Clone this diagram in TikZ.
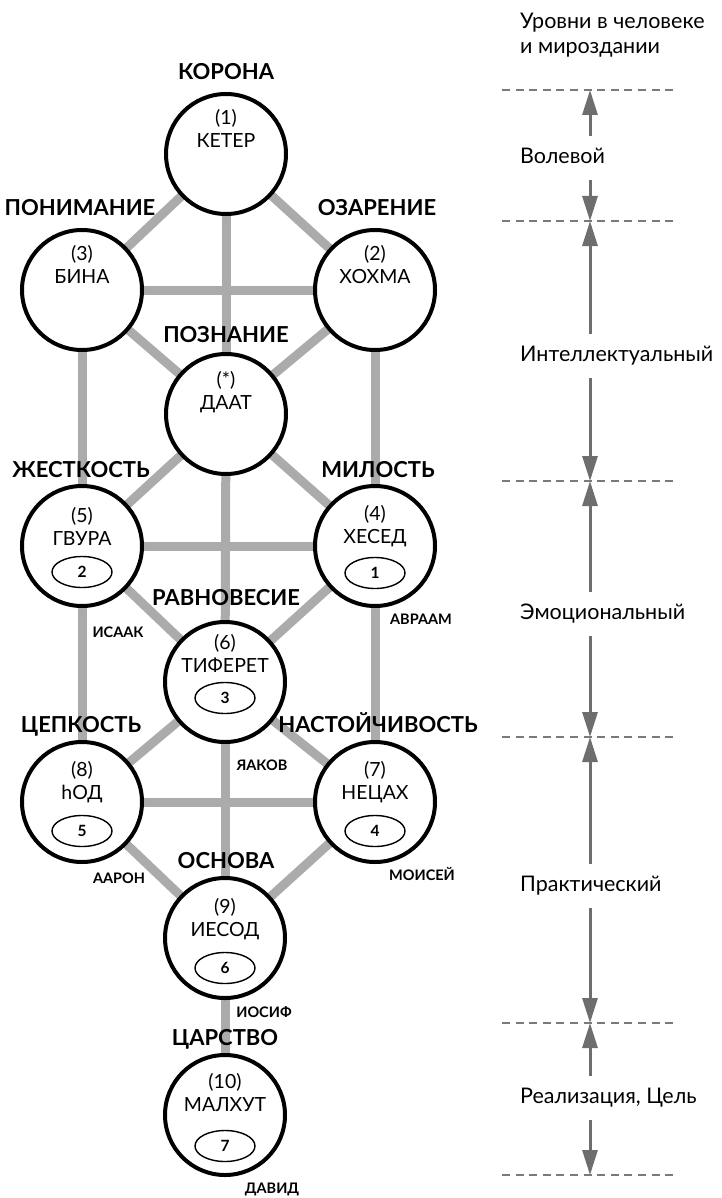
\documentclass[tikz,border=0pt]{standalone}
\usepackage{fontspec}
\setmainfont{Lato}
\usepackage{tikz}
\usetikzlibrary{shapes.geometric, arrows.meta, positioning, backgrounds}

\definecolor{pathgray}{HTML}{ABABAB}
\definecolor{arrowgray}{HTML}{6E6E6E}
\definecolor{dashgray}{HTML}{7A7A7A}

\begin{document}
\begin{tikzpicture}[
    x=1pt, y=-1pt,
    sefira/.style={circle, draw, line width=4pt, fill=white, minimum size=120pt, inner sep=0pt},
    sname/.style={align=center, inner sep=0pt, font=\fontsize{19.5}{23}\selectfont,
        execute at begin node=\strut, execute at end node=\strut},
    badge/.style={ellipse, draw, line width=1.4pt, minimum width=60pt, minimum height=31pt,
        inner sep=0pt, font=\bfseries\fontsize{15.5}{17}\selectfont},
    attrib/.style={anchor=base, inner sep=0pt, font=\bfseries\fontsize{22}{26}\selectfont},
    person/.style={anchor=base, inner sep=0pt, font=\bfseries\fontsize{14.5}{16}\selectfont},
    channel/.style={draw=pathgray, line width=9pt},
    tier/.style={anchor=west, inner xsep=0pt, inner ysep=12pt, text height=15pt, text depth=4pt,
        font=\fontsize{21.5}{25}\selectfont},
    divider/.style={draw=dashgray, line width=2pt, dash pattern=on 8pt off 5.6pt},
    levelarrow/.style={draw=arrowgray, line width=3pt, -{Triangle[length=25pt, width=15pt]}}
]
\useasboundingbox (0,0) rectangle (722,1198);

% Sefirot
\node[sefira] (keter)   at (226,154)  {};
\node[sefira] (bina)    at (82,290)   {};
\node[sefira] (chokhma) at (375,290)  {};
\node[sefira] (daat)    at (226,414)  {};
\node[sefira] (gevura)  at (82,546)   {};
\node[sefira] (chesed)  at (375,546)  {};
\node[sefira] (tiferet) at (225,682)  {};
\node[sefira] (hod)     at (82,802)   {};
\node[sefira] (netzach) at (375,802)  {};
\node[sefira] (yesod)   at (225,938)  {};
\node[sefira] (malkhut) at (225,1115) {};

% Channels
\begin{scope}[on background layer]
\foreach \a/\b in {keter/bina, keter/chokhma, keter/daat, bina/chokhma, bina/daat, chokhma/daat,
    bina/gevura, chokhma/chesed, daat/gevura, daat/chesed, daat/tiferet, gevura/chesed,
    gevura/tiferet, chesed/tiferet, gevura/hod, chesed/netzach, tiferet/hod, tiferet/netzach,
    tiferet/yesod, hod/netzach, hod/yesod, netzach/yesod, yesod/malkhut}
    \draw[channel] (\a.center) -- (\b.center);
\end{scope}

% Names inside the circles
\node[sname] (keter-t)   at ([yshift=22.5pt]keter.center)   {(1)\\КЕТЕР};
\node[sname] (bina-t)    at ([yshift=22.5pt]bina.center)    {(3)\\БИНА};
\node[sname] (chokhma-t) at ([yshift=22.5pt]chokhma.center) {(2)\\ХОХМА};
\node[sname] (daat-t)    at ([yshift=20.5pt]daat.center)    {(*)\\ДААТ};
\node[sname] (gevura-t)  at ([yshift=16.5pt]gevura.center)  {(5)\\ГВУРА};
\node[sname] (chesed-t)  at ([yshift=18.5pt]chesed.center)  {(4)\\ХЕСЕД};
\node[sname] (tiferet-t) at ([yshift=25.5pt]tiferet.center) {(6)\\ТИФЕРЕТ};
\node[sname] (hod-t)     at ([yshift=18.5pt]hod.center)     {(8)\\hОД};
\node[sname] (netzach-t) at ([yshift=18.5pt]netzach.center) {(7)\\НЕЦАХ};
\node[sname] (yesod-t)   at ([yshift=17.5pt]yesod.center)   {(9)\\ИЕСОД};
\node[sname] (malkhut-t) at ([yshift=19pt]malkhut.center)   {(10)\\МАЛХУТ};

% Numbered ovals
\node[badge] (chesed-b)  at ([yshift=-27pt]chesed.center)  {1};
\node[badge] (gevura-b)  at ([yshift=-26pt]gevura.center)  {2};
\node[badge] (tiferet-b) at ([yshift=-16pt]tiferet.center) {3};
\node[badge] (netzach-b) at ([yshift=-29pt]netzach.center) {4};
\node[badge] (hod-b)     at ([yshift=-29pt]hod.center)     {5};
\node[badge] (yesod-b)   at ([yshift=-30pt]yesod.center)   {6};
\node[badge] (malkhut-b) at ([yshift=-31pt]malkhut.center) {7};

% Qualities
\node[attrib] (crown)       at (226,80)   {КОРОНА};
\node[attrib] (understand)  at (80,215)   {ПОНИМАНИЕ};
\node[attrib] (insight)     at (377,215)  {ОЗАРЕНИЕ};
\node[attrib] (knowledge)   at (226,342)  {ПОЗНАНИЕ};
\node[attrib] (severity)    at (81,477)   {ЖЕСТКОСТЬ};
\node[attrib] (mercy)       at (378,477)  {МИЛОСТЬ};
\node[attrib] (balance)     at (226,605)  {РАВНОВЕСИЕ};
\node[attrib] (grip)        at (81,732)   {ЦЕПКОСТЬ};
\node[attrib] (persistence) at (378,732)  {НАСТОЙЧИВОСТЬ};
\node[attrib] (foundation)  at (226,868)  {ОСНОВА};
\node[attrib] (kingdom)     at (225,1045) {ЦАРСТВО};

% Forefathers
\node[person] (isaac)   at (118,637)  {ИСААК};
\node[person] (abraham) at (421,624)  {АВРААМ};
\node[person] (jacob)   at (262,770)  {ЯАКОВ};
\node[person] (aaron)   at (119,883)  {ААРОН};
\node[person] (moses)   at (422,880)  {МОИСЕЙ};
\node[person] (joseph)  at (264,1017) {ИОСИФ};
\node[person] (david)   at (272,1193) {ДАВИД};

% Levels
\node[anchor=north west, inner sep=0pt, align=left, font=\fontsize{21.5}{25}\selectfont,
    execute at begin node=\strut] (levels) at (520,12.5) {Уровни в человеке\\и мироздании};
\foreach \y/\n in {90/d1, 221/d2, 481/d3, 737/d4, 1023/d5, 1175/d6} {
    \draw[divider] (502,\y) -- (678,\y);
    \coordinate (\n) at (590,\y);
}
\node[tier] (will)    at (520,158)  {Волевой};
\node[tier] (intel)   at (520,356)  {Интеллектуальный};
\node[tier] (emotion) at (520,614)  {Эмоциональный};
\node[tier] (deed)    at (520,886)  {Практический};
\node[tier] (goal)    at (520,1098) {Реализация, Цель};

\draw[levelarrow] (will.north -| d1) -- (d1);
\draw[levelarrow] (will.south -| d2) -- (d2);
\draw[levelarrow] (intel.north -| d2) -- (d2);
\draw[levelarrow] (intel.south -| d3) -- (d3);
\draw[levelarrow] (emotion.north -| d3) -- (d3);
\draw[levelarrow] (emotion.south -| d4) -- (d4);
\draw[levelarrow] (deed.north -| d4) -- (d4);
\draw[levelarrow] (deed.south -| d5) -- (d5);
\draw[levelarrow] (goal.north -| d5) -- (d5);
\draw[levelarrow] (goal.south -| d6) -- (d6);
\end{tikzpicture}
\end{document}
